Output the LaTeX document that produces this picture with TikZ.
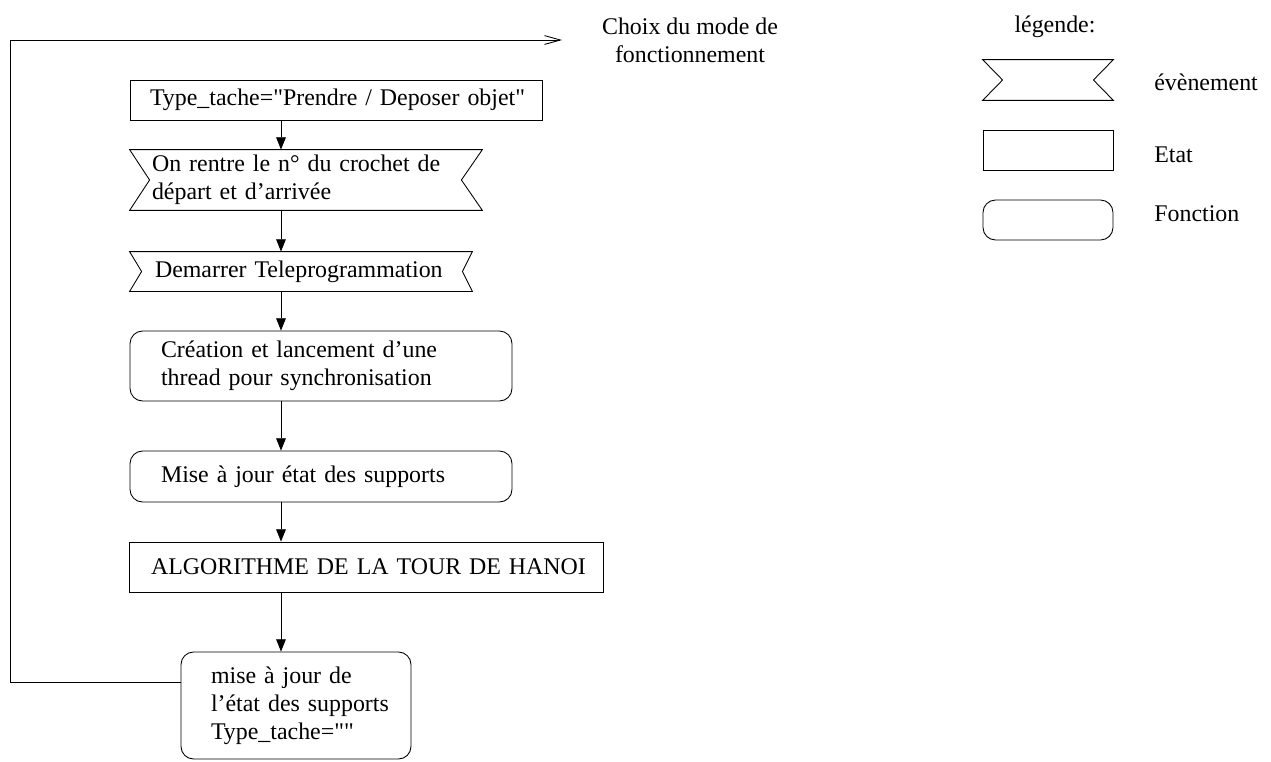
\documentclass[tikz,border=0pt]{standalone}
\usepackage{fontspec}
\setmainfont{Liberation Serif}[Ligatures=TeXOff]
\usetikzlibrary{arrows.meta}
\begin{document}
\begin{tikzpicture}[x=0.02cm,y=-0.02cm,
  every node/.style={font=\fontsize{13.6}{16}\selectfont},
  base/.style={line width=0.5pt, inner ysep=0pt, align=left},
  statebox/.style={base, draw, rectangle},
  funcbox/.style={base, draw, rectangle, rounded corners=0.25cm},
  eventbox/.style={base, rectangle},
  flow/.style={line width=0.5pt, -{Triangle[length=7pt,width=5.5pt]}},
  openarrow/.style={line width=0.5pt, -{Straight Barb[length=9pt,width=5pt,line width=0.5pt]}},
  outline/.style={line width=0.5pt}
]
\useasboundingbox (0,0) rectangle (1271,761);

% main flow
\node[statebox, minimum height=0.8cm, text width=7.44cm, inner xsep=0.4cm] (s1) at (336,100)
  {\mbox{Type\_tache="Prendre / Deposer objet"}};
\node[eventbox, minimum height=1.2cm, text width=6.16cm, inner xsep=0.44cm] (e1) at (306,180)
  {\mbox{On rentre le n° du crochet de}\\\mbox{départ et d’arrivée}};
\node[eventbox, minimum height=0.78cm, text width=5.84cm, inner xsep=0.5cm] (e2) at (301,271.5)
  {\mbox{Demarrer Teleprogrammation}};
\node[funcbox, minimum height=1.4cm, text width=6.4cm, inner xsep=0.62cm] (f1) at (321,366)
  {\mbox{Création et lancement d’une}\\\mbox{thread pour synchronisation}};
\node[funcbox, minimum height=1.02cm, text width=6.4cm, inner xsep=0.62cm] (f2) at (321,476.5)
  {\mbox{Mise à jour état des supports}};
\node[statebox, minimum height=1cm, text width=8.6cm, inner xsep=0.44cm] (s2) at (366,567)
  {\mbox{ALGORITHME DE LA TOUR DE HANOI}};
\node[funcbox, minimum height=2.14cm, text width=3.4cm, inner xsep=0.6cm] (f3) at (296,705.5)
  {\mbox{mise à jour de}\\\mbox{l’état des supports}\\\mbox{Type\_tache=""}};

% event outlines
\draw[outline] (e1.north west) -- (e1.north east) -- ([xshift=-0.42cm]e1.east) -- (e1.south east)
  -- (e1.south west) -- ([xshift=0.4cm]e1.west) -- cycle;
\draw[outline] (e2.north west) -- (e2.north east) -- ([xshift=-0.2cm]e2.east) -- (e2.south east)
  -- (e2.south west) -- ([xshift=0.24cm]e2.west) -- cycle;

% arrows
\coordinate (ax) at (281,0);
\draw[flow] (s1.south -| ax) -- (e1.north -| ax);
\draw[flow] (e1.south -| ax) -- (e2.north -| ax);
\draw[flow] (e2.south -| ax) -- (f1.north -| ax);
\draw[flow] (f1.south -| ax) -- (f2.north -| ax);
\draw[flow] (f2.south -| ax) -- (s2.north -| ax);
\draw[flow] (s2.south -| ax) -- (f3.north -| ax);

% loop back
\node[align=center] (choix) at (690,40) {Choix du mode de\\fonctionnement};
\coordinate (lb) at (10,682);
\coordinate (tl) at (10,40);
\coordinate (topend) at (562,40);
\draw[openarrow] (f3.west |- lb) -- (lb) -- (tl) -- (topend);

% legend
\node (leg) at (1055,27) {légende:};
\node[eventbox, minimum width=2.6cm, minimum height=0.8cm] (lev) at (1048,80) {};
\draw[outline] (lev.north west) -- (lev.north east) -- ([xshift=-0.4cm]lev.east) -- (lev.south east)
  -- (lev.south west) -- ([xshift=0.4cm]lev.west) -- cycle;
\node[statebox, minimum width=2.6cm, minimum height=0.8cm] (let) at (1048,150) {};
\node[funcbox, minimum width=2.6cm, minimum height=0.8cm] (lfn) at (1048,220) {};
\node[anchor=west, inner xsep=0pt] (tev) at (1154,82) {évènement};
\node[anchor=west, inner xsep=0pt] (tet) at (1154,155) {Etat};
\node[anchor=west, inner xsep=0pt] (tfn) at (1154,214) {Fonction};
\end{tikzpicture}
\end{document}
